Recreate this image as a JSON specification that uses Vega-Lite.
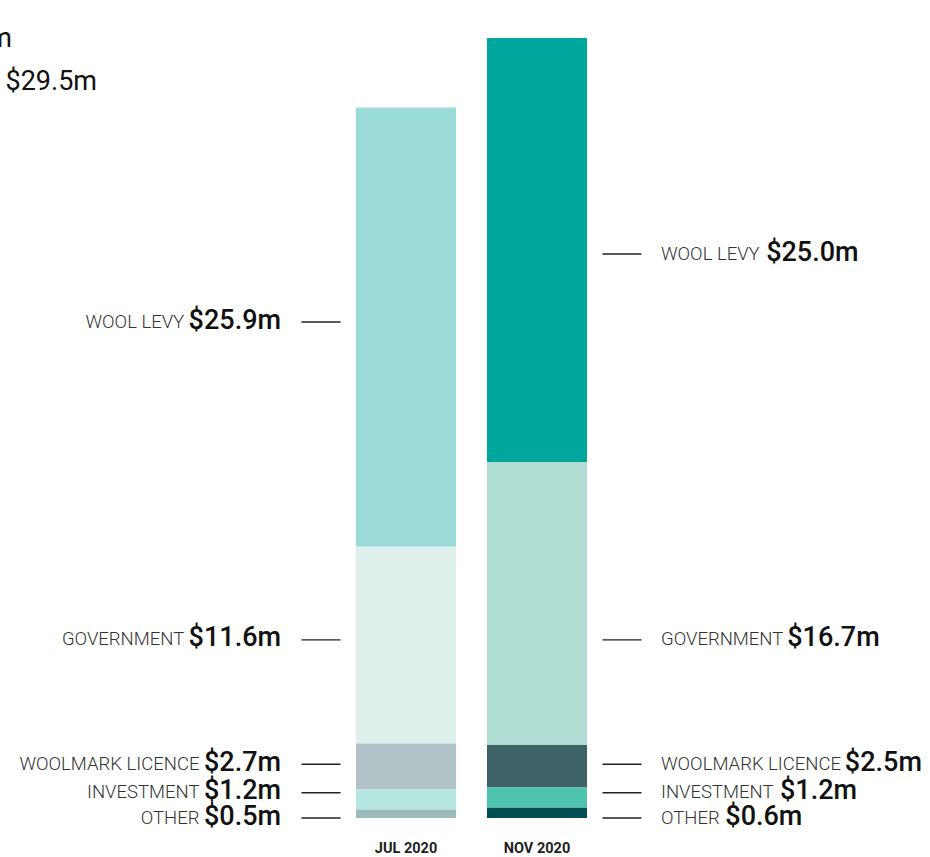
{
  "$schema": "https://vega.github.io/schema/vega-lite/v6.json",
  "autosize": {"type": "none"},
  "width": 930,
  "height": 818,
  "padding": {"left": 0, "top": 0, "right": 0, "bottom": 39},
  "background": "white",
  "config": {"view": {"stroke": null}, "font": "Roboto"},
  "datasets": {
    "funding": [
      {"period": "JUL 2020", "category": "WOOL LEVY", "value": 25.9, "at": 29.25},
      {"period": "JUL 2020", "category": "GOVERNMENT", "value": 11.6, "at": 10.51},
      {"period": "JUL 2020", "category": "WOOLMARK LICENCE", "value": 2.7, "at": 3.17},
      {"period": "JUL 2020", "category": "INVESTMENT", "value": 1.2, "at": 1.49},
      {"period": "JUL 2020", "category": "OTHER", "value": 0.5, "at": 0.0},
      {"period": "NOV 2020", "category": "WOOL LEVY", "value": 25.0, "at": 33.26},
      {"period": "NOV 2020", "category": "GOVERNMENT", "value": 16.7, "at": 10.51},
      {"period": "NOV 2020", "category": "WOOLMARK LICENCE", "value": 2.5, "at": 3.17},
      {"period": "NOV 2020", "category": "INVESTMENT", "value": 1.2, "at": 1.49},
      {"period": "NOV 2020", "category": "OTHER", "value": 0.6, "at": 0.0}
    ],
    "corner": [
      {"period": "JUL 2020", "text": "$41.9m", "at": 45.47, "shift": -394},
      {"period": "JUL 2020", "text": "$29.5m", "at": 42.93, "shift": -309}
    ]
  },
  "data": {"name": "funding"},
  "transform": [
    {"calculate": "indexof(['OTHER','INVESTMENT','WOOLMARK LICENCE','GOVERNMENT','WOOL LEVY'], datum.category)", "as": "ord"},
    {"calculate": "datum.period + '|' + datum.category", "as": "key"},
    {"calculate": "'$' + format(datum.value, '.1f') + 'm'", "as": "label"},
    {"calculate": "27 * (0.565 * (length(datum.label) - 2) + 1.14)", "as": "vw"},
    {"calculate": "-130 - datum.vw", "as": "cdx"},
    {"calculate": "0.985 * 18.5 * (0.66 * length(datum.category) - 0.40 * (length(datum.category) - length(replace(datum.category, regexp('[I ]', 'g'), ''))) - 0.10 * (length(datum.category) - length(replace(datum.category, regexp('[LE]', 'g'), ''))) + 0.20 * (length(datum.category) - length(replace(datum.category, regexp('[MW]', 'g'), ''))))", "as": "cw"},
    {"calculate": "124 + datum.cw + 6", "as": "vdx"}
  ],
  "encoding": {
    "x": {
      "field": "period", "type": "nominal",
      "scale": {"domain": ["JUL 2020", "NOV 2020"], "range": [356, 587], "paddingInner": 0.2366, "paddingOuter": 0},
      "axis": {"orient": "bottom", "title": null, "domain": false, "ticks": false, "labelAngle": 0,
               "labelFont": "Roboto", "labelFontWeight": "bold", "labelFontSize": 14.5, "labelColor": "#222222", "labelPadding": 23}
    }
  },
  "layer": [
    {
      "mark": {"type": "bar", "width": 100},
      "encoding": {
        "y": {"field": "value", "type": "quantitative", "stack": "zero", "scale": {"domain": [0, 48.24], "nice": false, "zero": true}, "axis": null},
        "order": {"field": "ord", "type": "quantitative", "sort": "ascending"},
        "color": {
          "field": "key", "type": "nominal", "legend": null,
          "scale": {
            "domain": ["JUL 2020|WOOL LEVY", "JUL 2020|GOVERNMENT", "JUL 2020|WOOLMARK LICENCE", "JUL 2020|INVESTMENT", "JUL 2020|OTHER",
                       "NOV 2020|WOOL LEVY", "NOV 2020|GOVERNMENT", "NOV 2020|WOOLMARK LICENCE", "NOV 2020|INVESTMENT", "NOV 2020|OTHER"],
            "range": ["#9BDCD8", "#DFF0EC", "#B2C2C6", "#B5E6E0", "#9BBABA",
                      "#00A79D", "#AFDDD4", "#3D6266", "#4DC3B0", "#004E52"]
          }
        }
      }
    },
    {
      "transform": [{"filter": "datum.period == 'JUL 2020'"}],
      "mark": {"type": "tick", "orient": "horizontal", "size": 39, "thickness": 1.3, "color": "#222222", "xOffset": -85, "opacity": 1},
      "encoding": {"y": {"field": "at", "type": "quantitative", "axis": null}}
    },
    {
      "transform": [{"filter": "datum.period == 'NOV 2020'"}],
      "mark": {"type": "tick", "orient": "horizontal", "size": 39, "thickness": 1.3, "color": "#222222", "xOffset": 85, "opacity": 1},
      "encoding": {"y": {"field": "at", "type": "quantitative", "axis": null}}
    },
    {
      "transform": [{"filter": "datum.period == 'JUL 2020'"}],
      "mark": {"type": "text", "align": "right", "baseline": "alphabetic", "dx": -125, "dy": 6.5, "font": "Roboto", "fontSize": 27, "fontWeight": 500, "color": "#111111"},
      "encoding": {"y": {"field": "at", "type": "quantitative", "axis": null}, "text": {"field": "label"}}
    },
    {
      "transform": [{"filter": "datum.period == 'JUL 2020'"}],
      "mark": {"type": "text", "align": "right", "baseline": "alphabetic", "dx": {"expr": "datum.cdx"}, "dy": 5.5, "font": "Roboto", "fontSize": 18.5, "fontWeight": 300, "color": "#333333"},
      "encoding": {"y": {"field": "at", "type": "quantitative", "axis": null}, "text": {"field": "category"}}
    },
    {
      "transform": [{"filter": "datum.period == 'NOV 2020'"}],
      "mark": {"type": "text", "align": "left", "baseline": "alphabetic", "dx": 124, "dy": 5.5, "font": "Roboto", "fontSize": 18.5, "fontWeight": 300, "color": "#333333"},
      "encoding": {"y": {"field": "at", "type": "quantitative", "axis": null}, "text": {"field": "category"}}
    },
    {
      "transform": [{"filter": "datum.period == 'NOV 2020'"}],
      "mark": {"type": "text", "align": "left", "baseline": "alphabetic", "dx": {"expr": "datum.vdx"}, "dy": 6.5, "font": "Roboto", "fontSize": 27, "fontWeight": 500, "color": "#111111"},
      "encoding": {"y": {"field": "at", "type": "quantitative", "axis": null}, "text": {"field": "label"}}
    },
    {
      "data": {"name": "corner"},
      "transform": [],
      "mark": {"type": "text", "align": "right", "baseline": "alphabetic", "dx": {"expr": "datum.shift"}, "font": "Roboto", "fontSize": 27, "fontWeight": 400, "color": "#111111"},
      "encoding": {"y": {"field": "at", "type": "quantitative", "axis": null}, "text": {"field": "text"}}
    }
  ]
}
